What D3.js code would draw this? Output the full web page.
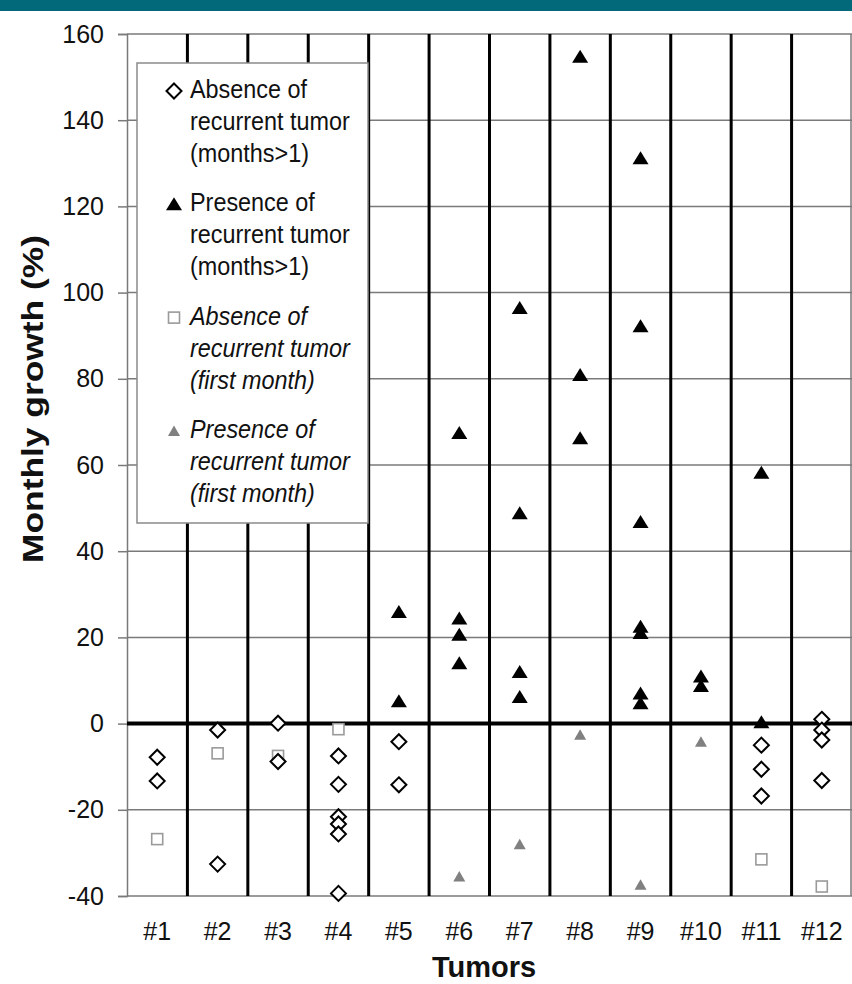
<!DOCTYPE html>
<html>
<head>
<meta charset="utf-8">
<script src="https://cdn.jsdelivr.net/npm/d3@7"></script>
<style>
  body { margin: 0; background: #fff; }
  svg { display: block; font-family: "Liberation Sans", Arial, sans-serif; }
</style>
</head>
<body>
<div class="js-vis"></div>
<script>
// categories and tick values
const tumors = ["#1", "#2", "#3", "#4", "#5", "#6", "#7", "#8", "#9", "#10", "#11", "#12"]
const yTicks = [-40, -20, 0, 20, 40, 60, 80, 100, 120, 140, 160]

// absence of recurrent tumor (months>1) - open diamonds
const absenceLater = [
  ["#1", -7.8], ["#1", -13.3],
  ["#2", -1.5], ["#2", -32.6],
  ["#3", 0.1], ["#3", -8.8],
  ["#4", -7.5], ["#4", -14.1], ["#4", -21.6], ["#4", -23.3], ["#4", -25.6], ["#4", -39.4],
  ["#5", -4.2], ["#5", -14.2],
  ["#11", -5.0], ["#11", -10.6], ["#11", -16.8],
  ["#12", 1.0], ["#12", -1.5], ["#12", -3.8], ["#12", -13.2]
]

// presence of recurrent tumor (months>1) - black triangles
const presenceLater = [
  ["#5", 25.9], ["#5", 5.2],
  ["#6", 67.4], ["#6", 24.4], ["#6", 20.6], ["#6", 14.0],
  ["#7", 96.4], ["#7", 48.8], ["#7", 12.0], ["#7", 6.2],
  ["#8", 154.7], ["#8", 80.9], ["#8", 66.2],
  ["#9", 131.2], ["#9", 92.2], ["#9", 46.8], ["#9", 22.5], ["#9", 21.0], ["#9", 7.0], ["#9", 4.7],
  ["#10", 10.9], ["#10", 8.7],
  ["#11", 58.2], ["#11", 0.3]
]

// absence of recurrent tumor (first month) - gray squares
const absenceFirst = [
  ["#1", -26.8], ["#2", -6.9], ["#3", -7.5], ["#4", -1.3], ["#11", -31.5], ["#12", -37.8]
]

// presence of recurrent tumor (first month) - gray triangles
const presenceFirst = [
  ["#6", -35.5], ["#7", -28.0], ["#8", -2.6], ["#9", -37.4], ["#10", -4.2]
]

const legendItems = [
  { lines: ["Absence of", "recurrent tumor", "(months>1)"], kind: "diamond", italic: false },
  { lines: ["Presence of", "recurrent tumor", "(months>1)"], kind: "tri", italic: false },
  { lines: ["Absence of", "recurrent tumor", "(first month)"], kind: "square", italic: true },
  { lines: ["Presence of", "recurrent tumor", "(first month)"], kind: "grayTri", italic: true }
]

const W = 852, H = 984
const margin = { top: 34, right: 0, bottom: 88, left: 127 },
    width = W - margin.left - margin.right,
    height = H - margin.top - margin.bottom

const svg = d3.select(".js-vis").append("svg")
  .attr("width", W)
  .attr("height", H)

// teal header strip
svg.append("rect")
  .attr("x", 0).attr("y", 0)
  .attr("width", W).attr("height", 11)
  .attr("fill", "#02697a")

const vis = svg.append("g")
  .attr("transform", "translate(" + margin.left + "," + margin.top + ")")

const x = d3.scaleBand()
  .domain(tumors)
  .range([0, width])

const y = d3.scaleLinear()
  .domain([-40, 160])
  .range([height, 0])

// horizontal grid
vis.append("g")
  .selectAll("line")
  .data(yTicks.filter(d => d !== 0))
.enter().append("line")
  .attr("x1", 0).attr("x2", width)
  .attr("y1", d => y(d)).attr("y2", d => y(d))
  .attr("stroke", "#7a7a7a")
  .attr("stroke-width", 1.5)

// y axis (plain hyphen for negatives, as in the source)
const yax = d3.axisLeft(y)
  .tickValues(yTicks)
  .tickFormat(d => String(d))
  .tickSize(9).tickPadding(14)
const yg = vis.append("g").call(yax)
yg.select(".domain").attr("stroke", "#7a7a7a").attr("stroke-width", 1.5)
yg.selectAll(".tick line").attr("stroke", "#7a7a7a").attr("stroke-width", 1.5)
yg.selectAll(".tick text")
  .attr("font-size", 25)
  .attr("font-family", "Liberation Sans, Arial, sans-serif")
  .attr("fill", "#111")

// right border
vis.append("line")
  .attr("x1", width - 1).attr("x2", width - 1)
  .attr("y1", 0).attr("y2", height)
  .attr("stroke", "#7a7a7a").attr("stroke-width", 1.5)

// thick separators between tumors
vis.append("g")
  .selectAll("line")
  .data(tumors.slice(1))
.enter().append("line")
  .attr("x1", d => x(d)).attr("x2", d => x(d))
  .attr("y1", 0).attr("y2", height)
  .attr("stroke", "#000")
  .attr("stroke-width", 3)

// zero line
vis.append("line")
  .attr("x1", 0).attr("x2", width)
  .attr("y1", y(0)).attr("y2", y(0))
  .attr("stroke", "#000")
  .attr("stroke-width", 4)

// x labels
const xax = d3.axisBottom(x).tickSize(0).tickPadding(26)
const xg = vis.append("g")
  .attr("transform", "translate(0," + height + ")")
  .call(xax)
xg.select(".domain").remove()
xg.selectAll(".tick text")
  .attr("font-size", 25)
  .attr("font-family", "Liberation Sans, Arial, sans-serif")
  .attr("fill", "#111")

// axis titles
svg.append("text")
  .attr("x", 484).attr("y", 977)
  .attr("text-anchor", "middle")
  .attr("font-size", 29)
  .attr("font-weight", "bold")
  .attr("fill", "#111")
  .text("Tumors")

svg.append("text")
  .attr("transform", "translate(43,399) rotate(-90)")
  .attr("text-anchor", "middle")
  .attr("font-size", 30)
  .attr("font-weight", "bold")
  .attr("fill", "#111")
  .attr("textLength", 328)
  .attr("lengthAdjust", "spacingAndGlyphs")
  .text("Monthly growth (%)")

// marker drawers
const sym = {
  diamond: g => g.append("path")
      .attr("d", "M0,-7.5L7.5,0L0,7.5L-7.5,0Z")
      .attr("fill", "#fff").attr("stroke", "#000").attr("stroke-width", 2),
  tri: g => g.append("path")
      .attr("d", "M0,-7L8,6L-8,6Z")
      .attr("fill", "#000"),
  square: g => g.append("rect")
      .attr("x", -5.5).attr("y", -5.5).attr("width", 11).attr("height", 11)
      .attr("fill", "#fff").attr("stroke", "#9a9a9a").attr("stroke-width", 1.6),
  grayTri: g => g.append("path")
      .attr("d", "M0,-5.5L6,5L-6,5Z")
      .attr("fill", "#808080")
}

function drawSeries(data, kind) {
  const grp = vis.append("g")
  grp.selectAll("g")
    .data(data)
  .enter().append("g")
    .attr("transform", d => "translate(" + (x(d[0]) + x.bandwidth() / 2) + "," + y(d[1]) + ")")
    .each(function() { sym[kind](d3.select(this)) })
}

drawSeries(absenceFirst, "square")
drawSeries(presenceFirst, "grayTri")
drawSeries(absenceLater, "diamond")
drawSeries(presenceLater, "tri")

// legend
const lg = svg.append("g")
lg.append("rect")
  .attr("x", 137).attr("y", 63)
  .attr("width", 231).attr("height", 460)
  .attr("fill", "#fff")
  .attr("stroke", "#8a8a8a")
  .attr("stroke-width", 1.5)

legendItems.forEach((item, i) => {
  const top = 98 + i * 113.3
  const m = lg.append("g")
    .attr("transform", "translate(" + 174 + "," + (top - 7) + ")")
  sym[item.kind](m)
  // glyphs in the source are a little narrow, so squeeze horizontally
  const t = lg.append("text")
    .attr("transform", "translate(190," + top + ") scale(0.9,1)")
    .attr("font-size", 26)
    .attr("font-style", item.italic ? "italic" : "normal")
    .attr("fill", "#111")
  item.lines.forEach((l, j) => {
    t.append("tspan")
      .attr("x", 0)
      .attr("dy", j === 0 ? 0 : 32)
      .text(l)
  })
})
</script>
</body>
</html>
